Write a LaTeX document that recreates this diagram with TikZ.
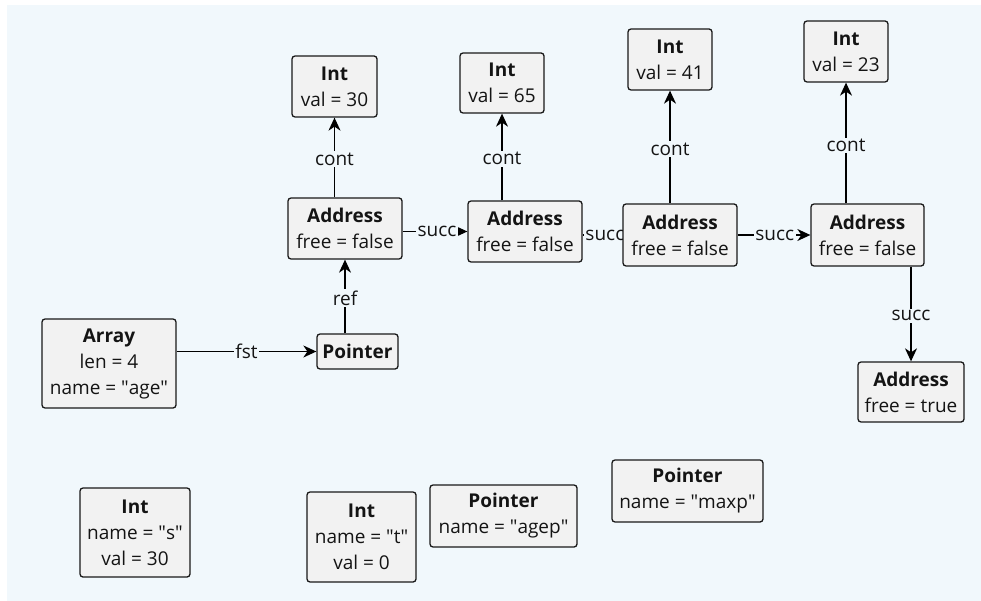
\documentclass[tikz,border=0pt]{standalone}
\usepackage{fontspec}
\setmainfont{Open Sans}
\usetikzlibrary{arrows.meta}
\pgfdeclarelayer{bglayer}
\pgfdeclarelayer{edgelayer}
\pgfsetlayers{bglayer,edgelayer,main}
\definecolor{bgblue}{HTML}{F1F8FC}
\definecolor{boxfill}{HTML}{F2F2F2}
\definecolor{txt}{HTML}{141414}
\newcommand{\qq}{\textquotedbl}
\tikzset{
  objbox/.style={draw=black!90, fill=boxfill, line width=1.3pt, rounded corners=3pt,
    align=center, inner sep=0pt, text=txt, font=\fontsize{19}{26}\selectfont},
  conn/.style={draw=black, line width=1.3pt, -{Stealth[length=13pt,width=12pt,inset=4pt]}},
  lbl/.style={fill=bgblue, inner sep=1.5pt, text=txt, font=\fontsize{19}{20}\selectfont}
}
\begin{document}
\begin{tikzpicture}[x=1pt,y=-1pt]
\begin{pgfonlayer}{bglayer}
\fill[white] (0,0) rectangle (981,601);
\fill[bgblue] (7,5) rectangle (981,601);
\end{pgfonlayer}
\useasboundingbox (0,0) rectangle (981,601);

\node[objbox, minimum width=85pt, minimum height=61pt] (int1) at (334.5,86.5) {\textbf{Int}\\val = 30};
\node[objbox, minimum width=84pt, minimum height=60pt] (int2) at (502,83) {\textbf{Int}\\val = 65};
\node[objbox, minimum width=84pt, minimum height=61pt] (int3) at (670,59.5) {\textbf{Int}\\val = 41};
\node[objbox, minimum width=84pt, minimum height=61pt] (int4) at (846,51.5) {\textbf{Int}\\val = 23};

\node[objbox, minimum width=114pt, minimum height=61pt] (addr1) at (345,228.5) {\textbf{Address}\\free = false};
\node[objbox, minimum width=114pt, minimum height=61pt] (addr2) at (525,231.5) {\textbf{Address}\\free = false};
\node[objbox, minimum width=114pt, minimum height=62pt] (addr3) at (680,235) {\textbf{Address}\\free = false};
\node[objbox, minimum width=113pt, minimum height=62pt] (addr4) at (867.5,235) {\textbf{Address}\\free = false};
\node[objbox, minimum width=106pt, minimum height=60pt] (addr5) at (911,392) {\textbf{Address}\\free = true};

\node[objbox, minimum width=134pt, minimum height=89pt] (arr) at (109,363.5) {\textbf{Array}\\len = 4\\name = \qq age\qq};
\node[objbox, minimum width=81pt, minimum height=35pt] (ptr) at (357.5,351.5) {\textbf{Pointer}};

\node[objbox, minimum width=110pt, minimum height=89pt] (ints) at (135,532.5) {\textbf{Int}\\name = \qq s\qq\\val = 30};
\node[objbox, minimum width=109pt, minimum height=90pt] (intt) at (361.5,537) {\textbf{Int}\\name = \qq t\qq\\val = 0};
\node[objbox, minimum width=147pt, minimum height=62pt] (agep) at (503.5,516) {\textbf{Pointer}\\name = \qq agep\qq};
\node[objbox, minimum width=151pt, minimum height=62pt] (maxp) at (687.5,491) {\textbf{Pointer}\\name = \qq maxp\qq};

\begin{pgfonlayer}{edgelayer}
\draw[conn] (int1.south |- addr1.north) -- node[lbl, pos=0.48] {cont} (int1.south);
\draw[conn] (int2.south |- addr2.north) -- node[lbl, pos=0.48] {cont} (int2.south);
\draw[conn] (int3.south |- addr3.north) -- node[lbl, pos=0.48] {cont} (int3.south);
\draw[conn] (int4.south |- addr4.north) -- node[lbl, pos=0.48] {cont} (int4.south);
\draw[conn] (addr1.south |- ptr.north) -- node[lbl, pos=0.48] {ref} (addr1.south);
\draw[conn] (arr.east |- ptr.west) -- node[lbl, pos=0.5] {fst} (ptr.west);
\draw[conn] (addr1.east |- addr2.west) -- node[lbl, pos=0.53] {succ} (addr2.west);
\draw[conn] (addr2.east |- addr3.west) -- node[lbl, pos=0.56] {succ} (addr3.west);
\draw[conn] (addr3.east |- addr4.west) -- node[lbl, pos=0.51] {succ} (addr4.west);
\draw[conn] (addr5.north |- addr4.south) -- node[lbl, pos=0.52] {succ} (addr5.north);
\end{pgfonlayer}
\end{tikzpicture}
\end{document}
